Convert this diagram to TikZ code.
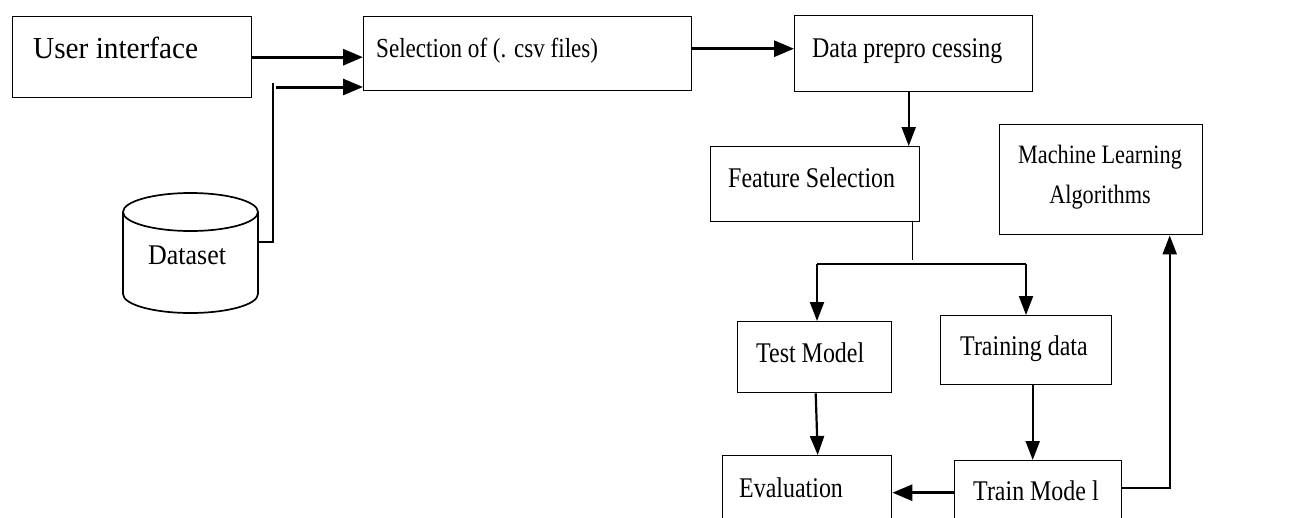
\documentclass[tikz,border=0pt]{standalone}
\usepackage{fontspec}
\setmainfont{Liberation Serif}[FakeStretch=0.84]
\newfontfamily\uifont{Liberation Serif}[FakeStretch=0.96]
\newfontfamily\dsfont{Liberation Serif}[FakeStretch=0.91]
\usetikzlibrary{arrows.meta}
\newcommand{\fsz}[1]{\fontsize{#1}{#1}\selectfont}
\begin{document}
\begin{tikzpicture}[x=1pt,y=-1pt,
  box/.style={draw, line width=1.4pt, inner sep=0pt, anchor=north west},
  txt/.style={inner sep=0pt, anchor=base west, font=\fsz{28.5}},
  ln/.style={line width=1.7pt},
  arrT/.style={line width=3pt, -{Triangle[length=20pt,width=16pt]}},
  arr/.style={line width=2.2pt, -{Triangle[length=19pt,width=14pt]}},
  cyl/.style={line width=1.7pt}]
\useasboundingbox (0,0) rectangle (1313,517);
\fill[white] (0,0) rectangle (1313,517);
\clip (0,0) rectangle (1313,517);

% boxes
\node[box, minimum width=239pt, minimum height=81pt] (ui) at (12,16) {};
\node[box, minimum width=328pt, minimum height=74pt] (sel) at (363,16) {};
\node[box, minimum width=238pt, minimum height=76pt] (dp) at (794,15) {};
\node[box, minimum width=209pt, minimum height=75pt] (fs) at (710,146) {};
\node[box, minimum width=203pt, minimum height=110pt] (ml) at (999,124) {};
\node[box, minimum width=154pt, minimum height=71pt] (tm) at (737,321) {};
\node[box, minimum width=171pt, minimum height=69pt] (td) at (940,315) {};
\node[box, minimum width=169pt, minimum height=75pt] (ev) at (722,455) {};
\node[box, minimum width=167pt, minimum height=70pt] (trm) at (954,460) {};

% dataset cylinder
\draw[cyl] (190.5,212) ellipse [x radius=67.5pt, y radius=19pt];
\draw[cyl] (123,212) -- (123,294) arc[start angle=180, end angle=360, x radius=67.5pt, y radius=19pt] -- (258,212);
\coordinate (ds) at (258,242);

% texts
\node[txt, font=\uifont\fsz{30.5}] (uit) at (33,58) {User interface};
\node[txt, font=\fsz{27.5}] (selt) at (376,57) {Selection of (. csv files)};
\node[txt] (dpt) at (812,57) {Data prepro cessing};
\node[txt] (fst) at (728,187) {Feature Selection};
\node[txt, anchor=base, font=\fsz{26.5}] (mlt1) at (1100,163) {Machine Learning};
\node[txt, anchor=base, font=\fsz{26.5}] (mlt2) at (1100,203) {Algorithms};
\node[txt] (tmt) at (756,362) {Test Model};
\node[txt] (tdt) at (960,355) {Training data};
\node[txt] (evt) at (739,497) {Evaluation};
\node[txt] (trmt) at (973,500) {Train Mode l};
\node[txt, font=\dsfont\fsz{28.5}] (dst) at (148,264) {Dataset};

% connectors
\draw[arrT] (ui.east) -- (ui.east -| sel.west);
\coordinate (dsup) at (273,83);
\coordinate (dsj) at (276,87);
\draw[ln] (ds) -| (dsup);
\draw[arrT] (dsj) -- (dsj -| sel.west);
\draw[arrT] ([yshift=5pt]sel.east) -- ([yshift=5pt]dp.west);
\draw[arr] ([xshift=-5pt]dp.south) -- ([xshift=-5pt]dp.south |- fs.north);
\coordinate (spl) at (817,264);
\coordinate (spr) at (1026,264);
\draw[ln] ([xshift=-8pt]fs.south east) -- ++(0,38);
\draw[line width=2.2pt] (spl) -- (spr);
\draw[arr] (spl) -- (spl |- tm.north);
\draw[arr] (spr) -- (spr |- td.north);
\draw[arr] ([xshift=1pt]tm.south) -- ([xshift=10.5pt]ev.north);
\draw[arr] ([xshift=6.5pt]td.south) -- ([xshift=6.5pt]td.south |- trm.north);
\draw[arrT] ([yshift=3pt]trm.west) -- ([yshift=3pt]trm.west -| ev.east);
\draw[arr] ([yshift=8pt]trm.east) -| ([xshift=68.5pt]ml.south);
\end{tikzpicture}
\end{document}
